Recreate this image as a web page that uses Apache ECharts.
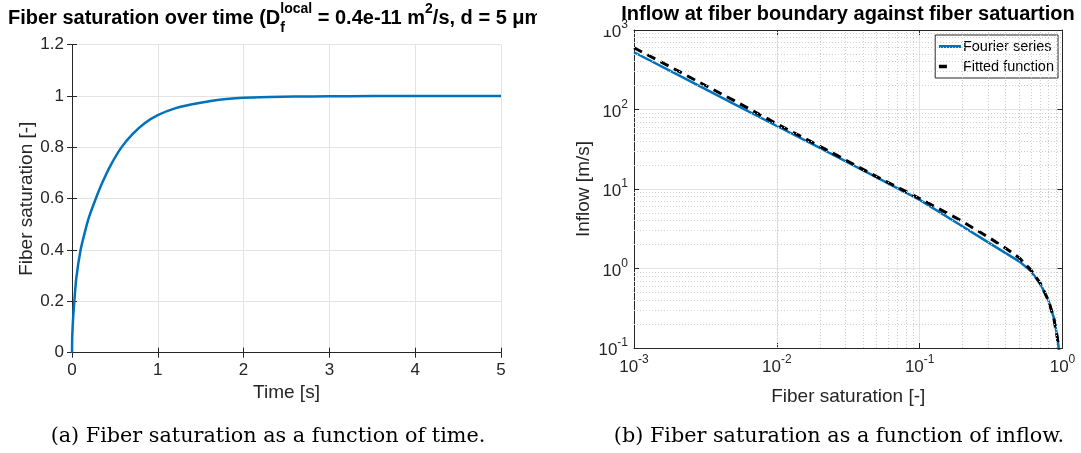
<!DOCTYPE html>
<html><head><meta charset="utf-8">
<script src="https://cdn.jsdelivr.net/npm/echarts@6/dist/echarts.min.js"></script>
<style>html,body{margin:0;padding:0;background:#fff}#c{width:1081px;height:453px}</style>
</head><body><div id="c"></div>
<script>
// ---- data ----
const timeSec = [0, 0.003, 0.012, 0.027, 0.05, 0.1, 0.15, 0.2, 0.277, 0.35, 0.45, 0.576, 0.7, 0.85, 1.0, 1.2, 1.4, 1.6, 1.8, 2.0, 2.3, 2.6, 3.0, 3.5, 4.0, 4.5, 5.0];
const fiberSat = [0, 0.065, 0.13, 0.2, 0.29, 0.4, 0.47, 0.53, 0.6, 0.66, 0.73, 0.8, 0.85, 0.895, 0.926, 0.952, 0.968, 0.98, 0.988, 0.993, 0.996, 0.998, 0.999, 1, 1, 1, 1];

const fourierSat = [0.001, 0.002, 0.005, 0.01, 0.02, 0.05, 0.1, 0.19, 0.3, 0.4, 0.5, 0.6, 0.7, 0.8, 0.87, 0.92, 0.94, 0.97];
const fourierInflow = [525, 277, 118, 62, 33, 14, 7.3, 3.58, 2.15, 1.56, 1.22, 0.93, 0.64, 0.39, 0.24, 0.14, 0.1, 0.05];

const fittedSat = [0.001, 0.002, 0.005, 0.01, 0.02, 0.05, 0.1, 0.19, 0.3, 0.4, 0.5, 0.6, 0.7, 0.8, 0.87, 0.92, 0.945, 0.97];
const fittedInflow = [598, 310, 130, 66, 34.5, 14.3, 7.6, 4.1, 2.5, 1.8, 1.35, 0.96, 0.65, 0.39, 0.235, 0.135, 0.095, 0.045];

const timeTicks = [0, 1, 2, 3, 4, 5];
const satTicks = [0, 0.2, 0.4, 0.6, 0.8, 1, 1.2];
const logSatDecades = [-3, -2, -1, 0];
const logInflowDecades = [-1, 0, 1, 2, 3];

const seriesNames = ['Fourier series', 'Fitted function'];
const titleB = 'Inflow at fiber boundary against fiber satuartion';
const captionA = '(a) Fiber saturation as a function of time.';
const captionB = '(b) Fiber saturation as a function of inflow.';

// ---- helpers ----
const FONT = '"Liberation Sans", Arial, sans-serif';
const TXT = '#262626';
const cv = document.createElement('canvas').getContext('2d');
function textW(t, size, weight, fam) { cv.font = (weight || 'normal') + ' ' + size + 'px ' + (fam || FONT); return cv.measureText(t).width; }
function zip(a, b) { return a.map((v, i) => [v, b[i]]); }

function minorVals(decs) {
  const out = [];
  for (let i = 0; i < decs.length - 1; i++) for (let k = 2; k <= 9; k++) out.push(k * Math.pow(10, decs[i]));
  return out;
}
const minorX = minorVals(logSatDecades);
const minorY = minorVals(logInflowDecades);

const supRich = {
  b: { fontSize: 17, fontFamily: FONT, color: TXT, lineHeight: 22, verticalAlign: 'bottom' },
  s: { fontSize: 12, fontFamily: FONT, color: TXT, lineHeight: 12, verticalAlign: 'top' }
};
function logLabel(v) { const e = Math.round(Math.log10(v)); return '{b|10}{s|' + e + '}'; }

const tickStyle = { inside: true, length: 5, lineStyle: { color: TXT, width: 1 } };
const lineStyleAx = { show: true, lineStyle: { color: TXT, width: 1 } };
const gridSplit = { show: true, lineStyle: { color: '#e3e3e3', width: 1 } };
const nameStyle = { fontSize: 19, color: TXT, fontFamily: FONT };

// ---- title layout (left) ----
const tSize = 20, sSize = 14;
const pieces = [
  { t: 'Fiber saturation over time (D', size: tSize, dy: 0 },
  { t: 'local', size: sSize, dy: -9.5, stack: true },
  { t: 'f', size: sSize, dy: 9.5, stackEnd: true },
  { t: ' = 0.4e-11 m', size: tSize, dy: 0 },
  { t: '2', size: sSize, dy: -9 },
  { t: '/s, d = 5 ', size: tSize, dy: 0 },
  { t: 'μm)', size: tSize, dy: 0 }
];
const titleEls = [];
let xCur = 8, stackX = 0, stackW = 0;
const titleY = 18.5;
pieces.forEach(p => {
  const w = textW(p.t, p.size, 'bold');
  let x = xCur;
  if (p.stack) { stackX = xCur; stackW = w; }
  if (p.stackEnd) { x = stackX; }
  titleEls.push({ type: 'text', z: 50, style: { text: p.t, x: x, y: titleY + p.dy, fontSize: p.size, fontWeight: 'bold', fontFamily: FONT, fill: '#000', verticalAlign: 'middle', align: 'left' } });
  if (p.stack) { }
  else if (p.stackEnd) { xCur = stackX + Math.max(stackW, w); }
  else xCur += w;
});

const capFam = '"DejaVu Serif", serif';
const capSize = 20 * 435 / textW(captionA, 20, 'normal', capFam);

const chart = echarts.init(document.getElementById('c'), null, { renderer: 'canvas' });
const option = {
  animation: false,
  backgroundColor: '#fff',
  textStyle: { fontFamily: FONT },
  grid: [
    { left: 72, top: 44.7, width: 429, height: 308 },
    { left: 634, top: 30, width: 428.5, height: 318 }
  ],
  legend: {
    data: [
      { name: seriesNames[0], lineStyle: { width: 3, color: '#0072BD', type: 'solid' } },
      { name: seriesNames[1], lineStyle: { width: 3.5, color: '#000', type: [8, 40] } }
    ],
    orient: 'vertical', right: 23, top: 35,
    borderColor: TXT, borderWidth: 1, backgroundColor: '#fff', borderRadius: 0,
    padding: [4, 4, 4, 2], itemWidth: 22, itemHeight: 10, itemGap: 5,
    itemStyle: { opacity: 0 },
    lineStyle: { width: 3 },
    textStyle: { fontSize: 14.5, color: '#000', fontFamily: FONT, padding: [0, 0, 0, -3] }
  },
  xAxis: [
    { gridIndex: 0, type: 'value', min: 0, max: 5, interval: 1, position: 'bottom',
      name: 'Time [s]', nameLocation: 'middle', nameGap: 29, nameTextStyle: nameStyle,
      axisLine: lineStyleAx, axisTick: tickStyle, splitLine: gridSplit,
      axisLabel: { fontSize: 17, color: TXT, margin: 9, fontFamily: FONT } },
    { gridIndex: 0, type: 'value', min: 0, max: 5, interval: 1, position: 'top',
      axisLine: lineStyleAx, axisTick: tickStyle, splitLine: { show: false }, axisLabel: { show: false } },
    { gridIndex: 1, type: 'log', logBase: 10, min: 0.001, max: 1, splitNumber: 3, position: 'bottom',
      name: 'Fiber saturation [-]', nameLocation: 'middle', nameGap: 39, nameTextStyle: nameStyle,
      axisLine: lineStyleAx, axisTick: tickStyle, splitLine: gridSplit,
      axisLabel: { formatter: logLabel, rich: supRich, margin: 6, showMinLabel: true, showMaxLabel: true } },
    { gridIndex: 1, type: 'log', logBase: 10, min: 0.001, max: 1, splitNumber: 3, position: 'top',
      axisLine: lineStyleAx, axisTick: tickStyle, splitLine: { show: false }, axisLabel: { show: false } }
  ],
  yAxis: [
    { gridIndex: 0, type: 'value', min: 0, max: 1.2, interval: 0.2, position: 'left',
      name: 'Fiber saturation [-]', nameLocation: 'middle', nameGap: 34, nameTextStyle: nameStyle,
      axisLine: lineStyleAx, axisTick: tickStyle, splitLine: gridSplit,
      axisLabel: { fontSize: 17, color: TXT, margin: 8, fontFamily: FONT } },
    { gridIndex: 0, type: 'value', min: 0, max: 1.2, interval: 0.2, position: 'right',
      axisLine: lineStyleAx, axisTick: tickStyle, splitLine: { show: false }, axisLabel: { show: false } },
    { gridIndex: 1, type: 'log', logBase: 10, min: 0.1, max: 1000, splitNumber: 4, position: 'left',
      name: 'Inflow [m/s]', nameLocation: 'middle', nameGap: 41, nameTextStyle: nameStyle,
      axisLine: lineStyleAx, axisTick: tickStyle, splitLine: gridSplit,
      axisLabel: { formatter: logLabel, rich: supRich, margin: 6, showMinLabel: true, showMaxLabel: true } },
    { gridIndex: 1, type: 'log', logBase: 10, min: 0.1, max: 1000, splitNumber: 4, position: 'right',
      axisLine: lineStyleAx, axisTick: tickStyle, splitLine: { show: false }, axisLabel: { show: false } }
  ],
  series: [
    { type: 'line', name: 'saturation', xAxisIndex: 0, yAxisIndex: 0, data: zip(timeSec, fiberSat),
      showSymbol: false, symbol: 'none', smooth: 0.2, lineStyle: { color: '#0072BD', width: 2.5 }, itemStyle: { color: '#0072BD' } },
    { type: 'line', name: seriesNames[0], xAxisIndex: 2, yAxisIndex: 2, data: zip(fourierSat, fourierInflow),
      showSymbol: false, symbol: 'none', smooth: false, clip: true,
      lineStyle: { color: '#0072BD', width: 2.5 }, itemStyle: { color: '#0072BD' },
      markLine: { silent: true, symbol: 'none', label: { show: false }, animation: false,
        lineStyle: { type: [1, 2], color: '#cfcfcf', width: 1 },
        data: minorX.map(v => ({ xAxis: v })).concat(minorY.map(v => ({ yAxis: v }))) } },
    { type: 'line', name: seriesNames[1], xAxisIndex: 2, yAxisIndex: 2, data: zip(fittedSat, fittedInflow),
      showSymbol: false, symbol: 'none', smooth: false, clip: true, z: 3,
      lineStyle: { color: '#000', width: 3, type: [9, 6] }, itemStyle: { color: '#000' } }
  ],
  graphic: titleEls.concat([
    { type: 'rect', z: 60, shape: { x: 537, y: 0, width: 75, height: 30 }, style: { fill: '#fff' } },
    { type: 'text', z: 50, style: { text: titleB, x: 848, y: 14, fontSize: 20, fontWeight: 'bold', fontFamily: FONT, fill: '#000', align: 'center', verticalAlign: 'middle' } },
    { type: 'text', z: 50, style: { text: captionA, x: 268, y: 437, fontSize: capSize, fontFamily: capFam, fill: '#000', align: 'center', verticalAlign: 'middle' } },
    { type: 'text', z: 50, style: { text: captionB, x: 839, y: 437, fontSize: capSize, fontFamily: capFam, fill: '#000', align: 'center', verticalAlign: 'middle' } }
  ])
};
chart.setOption(option);
</script></body></html>
